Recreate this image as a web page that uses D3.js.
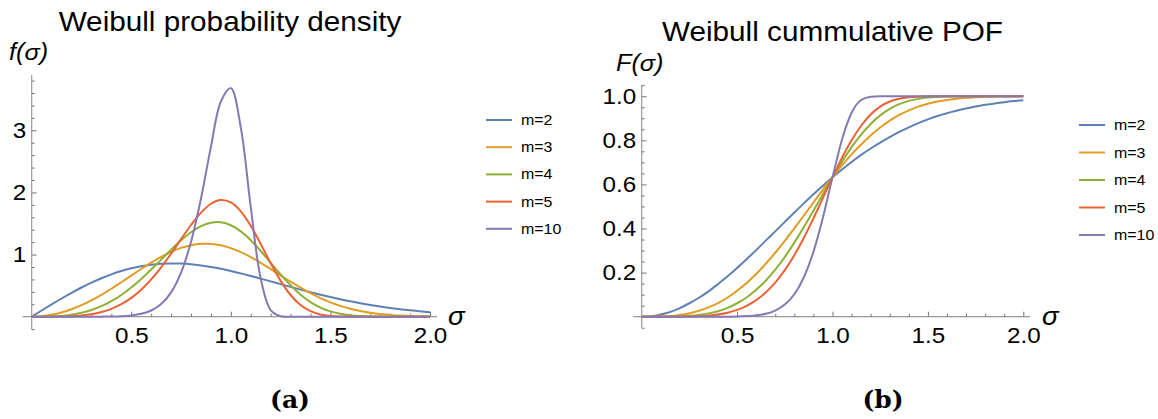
<!DOCTYPE html>
<html>
<head>
<meta charset="utf-8">
<script src="https://cdn.jsdelivr.net/npm/d3@7"></script>
<style>
  body { margin: 0; background: #fff; }
  svg text { font-family: "Liberation Sans", Arial, sans-serif; fill: #000; }
  svg text.caption { font-family: "DejaVu Serif", "Liberation Serif", serif; font-weight: bold; }
</style>
</head>
<body>
<svg id="svgContainer" width="1158" height="419"></svg>
<script>
const svgContainer = d3.select("#svgContainer");

// sample points along sigma
const sigma = [0, 0.05, 0.1, 0.15, 0.2, 0.25, 0.3, 0.35, 0.4, 0.45, 0.5, 0.55, 0.6, 0.65, 0.7, 0.75, 0.8, 0.85, 0.9, 0.95,
  1.0, 1.05, 1.1, 1.15, 1.2, 1.25, 1.3, 1.35, 1.4, 1.45, 1.5, 1.55, 1.6, 1.65, 1.7, 1.75, 1.8, 1.85, 1.9, 1.95, 2.0];

const seriesNames = ["m=2", "m=3", "m=4", "m=5", "m=10"];
const seriesColors = ["#5E81B5", "#E19C24", "#8FB032", "#EB6235", "#8778B3"];

// density f(sigma)
const pdf2 = [0, 0.100, 0.198, 0.293, 0.384, 0.470, 0.548, 0.619, 0.682, 0.735, 0.779, 0.813, 0.837, 0.852, 0.858, 0.855, 0.844, 0.825, 0.801, 0.771,
  0.736, 0.697, 0.656, 0.613, 0.569, 0.524, 0.480, 0.436, 0.394, 0.354, 0.316, 0.281, 0.247, 0.217, 0.189, 0.164, 0.141, 0.121, 0.103, 0.087, 0.073];
const pdf3 = [0, 0.008, 0.030, 0.067, 0.119, 0.185, 0.263, 0.352, 0.450, 0.555, 0.662, 0.768, 0.870, 0.963, 1.043, 1.107, 1.151, 1.173, 1.172, 1.149,
  1.104, 1.039, 0.959, 0.867, 0.767, 0.665, 0.563, 0.467, 0.378, 0.299, 0.231, 0.174, 0.128, 0.091, 0.064, 0.043, 0.029, 0.018, 0.011, 0.007, 0.004];
const pdf4 = [0, 0.001, 0.004, 0.013, 0.032, 0.062, 0.107, 0.169, 0.250, 0.350, 0.470, 0.607, 0.759, 0.919, 1.079, 1.230, 1.360, 1.458, 1.513, 1.519,
  1.472, 1.373, 1.231, 1.058, 0.869, 0.680, 0.505, 0.355, 0.236, 0.147, 0.085, 0.046, 0.023, 0.011, 0.005, 0.002, 0.001, 0, 0, 0, 0];
const pdf5 = [0, 0, 0.001, 0.003, 0.008, 0.020, 0.040, 0.075, 0.127, 0.201, 0.303, 0.435, 0.600, 0.795, 1.015, 1.248, 1.476, 1.675, 1.818, 1.879,
  1.839, 1.696, 1.463, 1.170, 0.861, 0.577, 0.349, 0.187, 0.089, 0.036, 0.013, 0.004, 0.001, 0, 0, 0, 0, 0, 0, 0, 0];
const pdf10 = [0, 0, 0, 0, 0, 0, 0, 0.001, 0.003, 0.008, 0.020, 0.046, 0.100, 0.204, 0.392, 0.710, 1.206, 1.902, 2.734, 3.463,
  3.679, 3.043, 1.762, 0.616, 0.106, 0.007, 0, 0, 0, 0, 0, 0, 0, 0, 0, 0, 0, 0, 0, 0, 0];

// cumulative F(sigma)
const cdf2 = [0, 0.002, 0.010, 0.022, 0.039, 0.061, 0.086, 0.115, 0.148, 0.183, 0.221, 0.261, 0.302, 0.345, 0.387, 0.430, 0.473, 0.514, 0.555, 0.594,
  0.632, 0.668, 0.702, 0.734, 0.763, 0.790, 0.815, 0.838, 0.859, 0.878, 0.895, 0.910, 0.923, 0.934, 0.944, 0.953, 0.961, 0.967, 0.973, 0.978, 0.982];
const cdf3 = [0, 0, 0.001, 0.003, 0.008, 0.016, 0.027, 0.042, 0.062, 0.087, 0.118, 0.153, 0.194, 0.240, 0.290, 0.344, 0.401, 0.459, 0.518, 0.576,
  0.632, 0.686, 0.736, 0.781, 0.822, 0.858, 0.889, 0.915, 0.936, 0.953, 0.966, 0.976, 0.983, 0.989, 0.993, 0.995, 0.997, 0.998, 0.999, 0.999, 1.000];
const cdf4 = [0, 0, 0, 0.001, 0.002, 0.004, 0.008, 0.015, 0.025, 0.040, 0.061, 0.087, 0.122, 0.163, 0.213, 0.271, 0.336, 0.407, 0.481, 0.557,
  0.632, 0.703, 0.769, 0.826, 0.874, 0.913, 0.943, 0.964, 0.979, 0.988, 0.994, 0.997, 0.999, 0.999, 1, 1, 1, 1, 1, 1, 1];
const cdf5 = [0, 0, 0, 0, 0, 0.001, 0.002, 0.005, 0.010, 0.018, 0.031, 0.049, 0.075, 0.110, 0.155, 0.211, 0.279, 0.358, 0.446, 0.539,
  0.632, 0.721, 0.800, 0.866, 0.917, 0.953, 0.976, 0.989, 0.995, 0.998, 1, 1, 1, 1, 1, 1, 1, 1, 1, 1, 1];
const cdf10 = [0, 0, 0, 0, 0, 0, 0, 0, 0, 0, 0.001, 0.003, 0.006, 0.013, 0.028, 0.055, 0.102, 0.179, 0.294, 0.450,
  0.632, 0.804, 0.925, 0.983, 0.998, 1, 1, 1, 1, 1, 1, 1, 1, 1, 1, 1, 1, 1, 1, 1, 1];

const xMajor = [0.5, 1.0, 1.5, 2.0];
const yMajorA = [1, 2, 3];
const yMajorB = [0.2, 0.4, 0.6, 0.8, 1.0];

const STRETCH = 1.1; // the figure is a little wider than tall

function txt(g, x, y, s, size, anchor, style) {
  return g.append("text")
    .attr("transform", `translate(${x},${y}) scale(${STRETCH},1)`)
    .attr("text-anchor", anchor || "start")
    .attr("font-size", size + "px")
    .attr("font-style", style || "normal")
    .text(s);
}

function drawPanel(opt) {
  const g = svgContainer.append("g");
  const x = d3.scaleLinear().domain([0, 2]).range(opt.xRange);
  const y = d3.scaleLinear().domain([0, opt.yMax]).range(opt.yRange);

  // axes lines
  g.append("line")
    .attr("x1", x(-0.045)).attr("x2", x(2.035))
    .attr("y1", y(0)).attr("y2", y(0))
    .attr("stroke", "#999").attr("stroke-width", 1.2);
  g.append("line")
    .attr("x1", x(0)).attr("x2", x(0))
    .attr("y1", y(opt.yMax)).attr("y2", y(opt.yMin))
    .attr("stroke", "#999").attr("stroke-width", 1.2);

  // ticks (pointing inward, minor + major)
  const tickStyle = sel => {
    sel.select(".domain").remove();
    sel.selectAll("line").attr("stroke", "#777").attr("stroke-width", 1);
    sel.selectAll("text").remove();
  };
  const xMinor = d3.range(1, 21).map(d => d / 10).filter(d => !xMajor.includes(+d.toFixed(1)));
  g.append("g").attr("transform", `translate(0,${y(0)})`)
    .call(d3.axisTop(x).tickValues(xMinor).tickSize(3)).call(tickStyle);
  g.append("g").attr("transform", `translate(0,${y(0)})`)
    .call(d3.axisTop(x).tickValues(xMajor).tickSize(5)).call(tickStyle);
  g.append("g").attr("transform", `translate(${x(0)},0)`)
    .call(d3.axisRight(y).tickValues(opt.yMinor).tickSize(3)).call(tickStyle);
  g.append("g").attr("transform", `translate(${x(0)},0)`)
    .call(d3.axisRight(y).tickValues(opt.yMajor).tickSize(5)).call(tickStyle);

  // tick labels
  const xl = g.append("g").attr("transform", `translate(0,${y(0)})`)
    .call(d3.axisBottom(x).tickValues(xMajor).tickSize(0).tickPadding(11).tickFormat(d3.format(".1f")));
  const yl = g.append("g").attr("transform", `translate(${x(0)},0)`)
    .call(d3.axisLeft(y).tickValues(opt.yMajor).tickSize(0).tickPadding(5).tickFormat(opt.yFormat));
  [xl, yl].forEach(a => {
    a.select(".domain").remove();
    a.selectAll("text")
      .attr("font-size", 22).attr("fill", "#000")
      .attr("transform", `scale(${STRETCH},1)`);
  });

  // curves
  const line = d3.line()
    .x((d, i) => x(sigma[i]))
    .y(d => y(d))
    .curve(opt.curve);
  g.selectAll("path.curve")
    .data(opt.series)
    .join("path")
    .attr("class", "curve")
    .attr("d", d => line(d))
    .attr("fill", "none")
    .attr("stroke", (d, i) => seriesColors[i])
    .attr("stroke-width", 2);

  // titles / axis names
  txt(g, opt.title[1], opt.title[2], opt.title[0], 27, "middle");
  txt(g, opt.yName[1], opt.yName[2], opt.yName[0], 23, "start", "italic");
  txt(g, opt.sigmaPos[0], opt.sigmaPos[1], "σ", 25, "start", "italic");

  // legend
  const lg = g.append("g");
  seriesNames.forEach((name, i) => {
    const ly = opt.legend[1] + i * opt.legend[2];
    lg.append("line")
      .attr("x1", opt.legend[0]).attr("x2", opt.legend[0] + 26)
      .attr("y1", ly).attr("y2", ly)
      .attr("stroke", seriesColors[i]).attr("stroke-width", 2);
    txt(lg, opt.legend[0] + 35, ly + 5, name, 14.5, "start");
  });

  // caption
  g.append("text")
    .attr("class", "caption")
    .attr("x", opt.caption[1]).attr("y", opt.caption[2])
    .attr("text-anchor", "middle")
    .attr("font-size", "25px")
    .text(opt.caption[0]);
}

drawPanel({
  xRange: [31.7, 430],
  yRange: [316.7, 75],
  yMax: 3.89, yMin: -0.2,
  yMajor: yMajorA,
  yMinor: [-0.2, 0.2, 0.4, 0.6, 0.8, 1.2, 1.4, 1.6, 1.8, 2.2, 2.4, 2.6, 2.8, 3.2, 3.4, 3.6, 3.8],
  yFormat: d3.format("d"),
  series: [pdf2, pdf3, pdf4, pdf5, pdf10],
  curve: d3.curveCatmullRom.alpha(0.5),
  title: ["Weibull probability density", 230, 30.5],
  yName: ["f(σ)", 9, 60],
  sigmaPos: [448, 325],
  legend: [486, 120, 27.2],
  caption: ["(a)", 290, 408]
});

drawPanel({
  xRange: [641.7, 1023.3],
  yRange: [316.7, 85.2],
  yMax: 1.05, yMin: -0.05,
  yMajor: yMajorB,
  yMinor: [-0.05, 0.05, 0.1, 0.15, 0.25, 0.3, 0.35, 0.45, 0.5, 0.55, 0.65, 0.7, 0.75, 0.85, 0.9, 0.95, 1.05],
  yFormat: d3.format(".1f"),
  series: [cdf2, cdf3, cdf4, cdf5, cdf10],
  curve: d3.curveMonotoneX,
  title: ["Weibull cummulative POF", 832.5, 40.5],
  yName: ["F(σ)", 616, 71],
  sigmaPos: [1042, 324.5],
  legend: [1079, 125, 27.5],
  caption: ["(b)", 883, 408]
});
</script>
</body>
</html>
